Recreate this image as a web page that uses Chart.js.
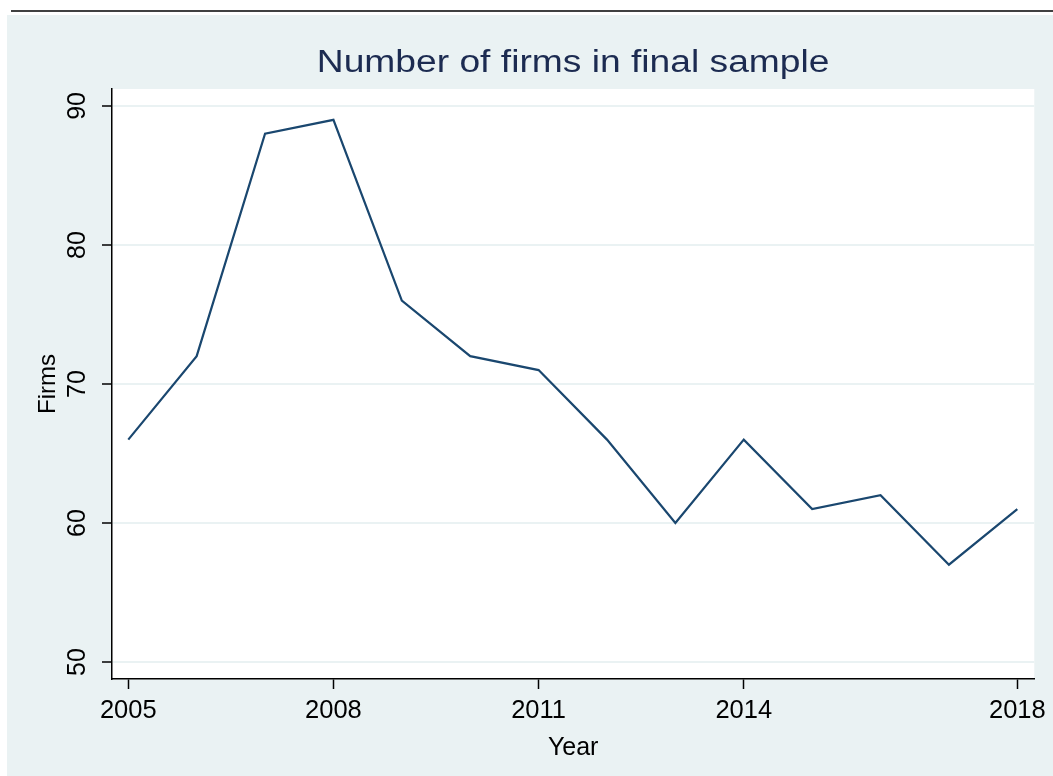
<!DOCTYPE html>
<html>
<head>
<meta charset="utf-8">
<title>Number of firms in final sample</title>
<script src="https://cdn.jsdelivr.net/npm/chart.js@4/dist/chart.umd.min.js"></script>
<style>
  html, body { margin: 0; padding: 0; background: #fff; }
  canvas { display: block; }
</style>
</head>
<body>
<canvas id="firmsChart" width="1053" height="776"></canvas>
<script>
const chartTitle = 'Number of firms in final sample';
const years = [2005, 2006, 2007, 2008, 2009, 2010, 2011, 2012, 2013, 2014, 2015, 2016, 2017, 2018];
const firms = [66, 72, 88, 89, 76, 72, 71, 66, 60, 66, 61, 62, 57, 61];
const xTicks = [2005, 2008, 2011, 2014, 2018];
const yTicks = [50, 60, 70, 80, 90];

const fontFamily = '"Liberation Sans", Arial, Helvetica, sans-serif';

// Stata-style backdrop: bluish graph region, white plot region, rule on top
const backdrop = {
  id: 'backdrop',
  beforeDraw(chart) {
    const { ctx, chartArea: a } = chart;
    ctx.save();
    ctx.fillStyle = '#ffffff';
    ctx.fillRect(0, 0, chart.width, chart.height);
    ctx.fillStyle = '#eaf2f3';
    ctx.fillRect(7, 15, chart.width - 7, chart.height - 15);
    ctx.fillStyle = '#ffffff';
    ctx.fillRect(a.left, a.top, a.right - a.left, a.bottom - a.top);
    ctx.strokeStyle = '#000000';
    ctx.lineWidth = 1.5;
    ctx.beginPath();
    ctx.moveTo(11, 11);
    ctx.lineTo(chart.width, 11);
    ctx.stroke();
    ctx.restore();
  },
  afterDraw(chart) {
    // title centred over the plot region
    const { ctx, chartArea: a } = chart;
    ctx.save();
    ctx.font = '31px ' + fontFamily;
    ctx.fillStyle = '#1c2b51';
    ctx.textAlign = 'center';
    ctx.textBaseline = 'alphabetic';
    ctx.translate((a.left + a.right) / 2, 72);
    ctx.scale(1.2, 1);
    ctx.fillText(chartTitle, 0, 0);
    ctx.restore();
  }
};

const ctx = document.getElementById('firmsChart').getContext('2d');
const firmsChart = new Chart(ctx, {
  type: 'line',
  data: {
    datasets: [{
      label: 'Firms',
      data: years.map((yr, i) => ({ x: yr, y: firms[i] })),
      borderColor: '#1a476f',
      borderWidth: 2.2,
      pointRadius: 0,
      tension: 0,
      fill: false
    }]
  },
  options: {
    responsive: false,
    animation: false,
    devicePixelRatio: 1,
    layout: { padding: { top: 89, right: 17, bottom: 0, left: 0 } },
    plugins: {
      legend: { display: false },
      tooltip: { enabled: false },
      title: { display: false }
    },
    scales: {
      x: {
        type: 'linear',
        min: 2004.762,
        max: 2018.248,
        afterBuildTicks: s => { s.ticks = xTicks.map(v => ({ value: v })); },
        afterFit: s => { s.height = 97; },
        border: { color: '#000', width: 1.5 },
        grid: { drawOnChartArea: false, drawTicks: true, tickLength: 10, tickColor: '#000', tickWidth: 1.5 },
        ticks: {
          color: '#000',
          padding: 7,
          maxRotation: 0,
          font: { family: fontFamily, size: 25.5 },
          callback: v => String(v)
        },
        title: {
          display: true,
          text: 'Year',
          color: '#000',
          font: { family: fontFamily, size: 25 },
          padding: { top: 0, bottom: 13 }
        }
      },
      y: {
        min: 48.78,
        max: 91.22,
        afterBuildTicks: s => { s.ticks = yTicks.map(v => ({ value: v })); },
        afterFit: s => { s.width = 112; },
        border: { color: '#000', width: 1.5 },
        grid: { color: '#eaf2f3', lineWidth: 2, drawTicks: true, tickLength: 10, tickColor: '#000', tickWidth: 1.5 },
        ticks: {
          color: '#000',
          padding: 10,
          minRotation: 90,
          maxRotation: 90,
          crossAlign: 'center',
          font: { family: fontFamily, size: 25 },
          callback: v => String(v)
        },
        title: {
          display: true,
          text: 'Firms',
          color: '#000',
          font: { family: fontFamily, size: 24 },
          padding: { top: 34, bottom: 0 }
        }
      }
    }
  },
  plugins: [backdrop]
});
</script>
</body>
</html>
